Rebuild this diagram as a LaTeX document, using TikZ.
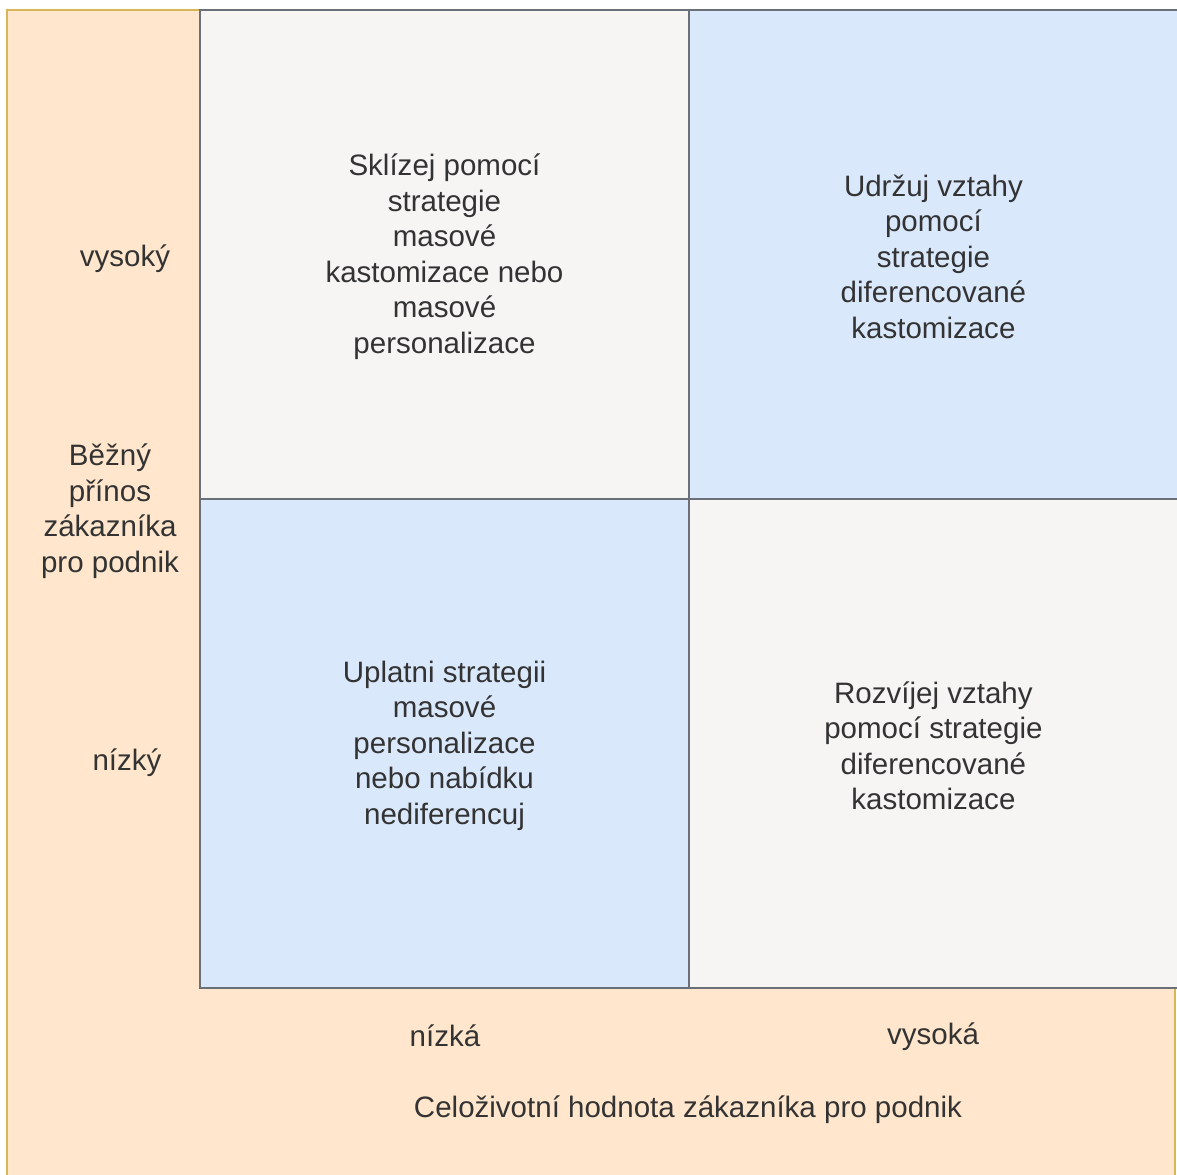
\documentclass[tikz,border=0pt]{standalone}
\usepackage{fontspec}
\setmainfont{Liberation Sans}
\usepackage{xcolor}
\usetikzlibrary{positioning}

\definecolor{bgorange}{HTML}{FFE6CC}
\definecolor{bgline}{HTML}{D6B656}
\definecolor{cellblue}{HTML}{DAE8FC}
\definecolor{cellgray}{HTML}{F7F4F4}
\definecolor{cellline}{HTML}{6A6F78}
\definecolor{txt}{HTML}{333333}

\begin{document}
\begin{tikzpicture}[x=0.02cm, y=-0.02cm,
            every node/.style={font=\fontsize{16.8}{20.2}\selectfont, text=txt},
            cell/.style={draw=cellline, line width=0.9pt, rectangle, minimum width=9.78cm, minimum height=9.78cm, inner sep=0pt, outer sep=0pt},
            light/.style={cell, fill=cellgray},
            blue/.style={cell, fill=cellblue},
            label/.style={align=center, inner sep=0pt}]
            \useasboundingbox (0,0) rectangle (1177,1175);
            \draw[fill=bgorange, draw=bgline, line width=0.8pt] (7,10) rectangle (1175,1180);

            % Cells
            \node (tl) [light] at (444.5,254.5) {};
            \node (tr) [blue, right=0pt of tl] {};
            \node (bl) [blue, below=0pt of tl] {};
            \node (br) [light, below=0pt of tr] {};

            % Texts
            \node (tltext) [label] at ([yshift=-1.3pt]tl) {Sklízej pomocí\\strategie\\masové\\kastomizace nebo\\masové\\personalizace};
            \node (trtext) [label] at ([yshift=-1.3pt]tr) {Udržuj vztahy\\pomocí\\strategie\\diferencované\\kastomizace};
            \node (bltext) [label] at ([yshift=-1.3pt]bl) {Uplatni strategii\\masové\\personalizace\\nebo nabídku\\nediferencuj};
            \node (brtext) [label] at ([yshift=-1.3pt]br) {Rozvíjej vztahy\\pomocí strategie\\diferencované\\kastomizace};

            \node (hi) [label] at (125,259) {vysoký};
            \node (axisy) [label] at (110,511) {Běžný\\přínos\\zákazníka\\pro podnik};
            \node (lo) [label] at (127,763) {nízký};
            \node (xlo) [label] at (445,1036) {nízká};
            \node (xhi) [label] at (933,1037) {vysoká};
            \node (axisx) [label] at (688,1110) {Celoživotní hodnota zákazníka pro podnik};
\end{tikzpicture}
\end{document}
